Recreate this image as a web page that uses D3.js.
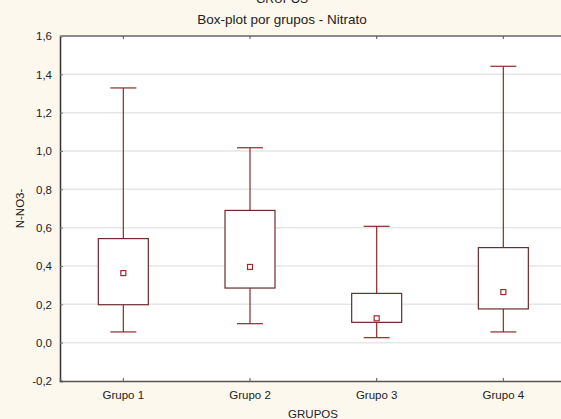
<!DOCTYPE html>
<html>
<head>
<meta charset="utf-8">
<script src="https://cdn.jsdelivr.net/npm/d3@7/dist/d3.min.js"></script>
<style>
  html, body { margin: 0; padding: 0; background: #fdf8ee; }
  svg { display: block; }
  text { font-family: "Liberation Sans", Arial, sans-serif; fill: #222; }
</style>
</head>
<body>
<svg id="chart" width="561" height="419"></svg>
<script>
// Nitrate (N-NO3-) summary per group
const groups      = ["Grupo 1", "Grupo 2", "Grupo 3", "Grupo 4"];
const whiskerLow  = [0.056, 0.099, 0.026, 0.056];
const boxLow      = [0.198, 0.285, 0.106, 0.176];
const median      = [0.363, 0.395, 0.127, 0.264];
const boxHigh     = [0.543, 0.690, 0.257, 0.496];
const whiskerHigh = [1.329, 1.017, 0.607, 1.442];
const yTicks      = [-0.2, 0.0, 0.2, 0.4, 0.6, 0.8, 1.0, 1.2, 1.4, 1.6];

const svg = d3.select("#chart");
const plotLeft = 60, plotTop = 36, plotBottom = 381;
const step = 126.67;
const plotRight = plotLeft + step * groups.length;

const x = d3.scaleBand().domain(groups).range([plotLeft, plotRight]).paddingInner(0).paddingOuter(0);
const y = d3.scaleLinear().domain([-0.2, 1.6]).range([plotBottom, plotTop]);
const fmt = v => d3.format(".1f")(v).replace(".", ",").replace("−", "-");

// plot background
svg.append("rect").attr("x", plotLeft).attr("y", plotTop)
  .attr("width", plotRight - plotLeft).attr("height", plotBottom - plotTop).attr("fill", "#ffffff");

// horizontal grid
svg.append("g").selectAll("line").data(yTicks.slice(1, -1)).join("line")
  .attr("x1", plotLeft).attr("x2", plotRight)
  .attr("y1", d => y(d)).attr("y2", d => y(d))
  .attr("stroke", "#e6e6e6").attr("stroke-width", 1.5);

// titles (the upper one sits partly above the page edge)
svg.append("text").attr("x", 282).attr("y", 3).attr("text-anchor", "middle")
  .attr("font-size", 12).text("GRUPOS");
svg.append("text").attr("x", 282).attr("y", 24).attr("text-anchor", "middle")
  .attr("font-size", 13.5).text("Box-plot por grupos - Nitrato");

// y axis
const yAxis = d3.axisLeft(y).tickValues(yTicks).tickFormat(fmt).tickSize(-3).tickPadding(8);
const gy = svg.append("g").attr("transform", `translate(${plotLeft},0)`).call(yAxis);
gy.select(".domain").attr("stroke", "#333").attr("stroke-width", 1.5);
gy.selectAll(".tick line").attr("stroke", "#777");
gy.selectAll(".tick text").attr("font-size", 11.5).attr("font-family", "Liberation Sans, Arial, sans-serif").attr("fill", "#222");

// x axis (bottom)
const xAxis = d3.axisBottom(x).tickSize(-3).tickPadding(10);
const gx = svg.append("g").attr("transform", `translate(0,${plotBottom})`).call(xAxis);
gx.select(".domain").attr("stroke", "#555").attr("stroke-width", 1.5);
gx.selectAll(".tick line").attr("stroke", "#555");
gx.selectAll(".tick text").attr("font-size", 11.5).attr("font-family", "Liberation Sans, Arial, sans-serif").attr("fill", "#222");

// top frame with small ticks
svg.append("line").attr("x1", plotLeft).attr("x2", plotRight).attr("y1", plotTop).attr("y2", plotTop)
  .attr("stroke", "#8a8a8a").attr("stroke-width", 2);
svg.append("g").selectAll("line").data(groups).join("line")
  .attr("x1", d => x(d) + x.bandwidth() / 2).attr("x2", d => x(d) + x.bandwidth() / 2)
  .attr("y1", plotTop).attr("y2", plotTop + 3).attr("stroke", "#555");

// axis titles
svg.append("text").attr("transform", `translate(24,${(plotTop + plotBottom) / 2}) rotate(-90)`)
  .attr("text-anchor", "middle").attr("font-size", 11.5).text("N-NO3-");
svg.append("text").attr("x", 313).attr("y", 418).attr("text-anchor", "middle")
  .attr("font-size", 11.5).text("GRUPOS");

// boxes
const boxW = 50, capW = 26;
const whiskerColor = "#8e2a2a", boxColor = "#6e2a2e";
const g = svg.append("g").selectAll("g").data(groups).join("g")
  .attr("transform", d => `translate(${x(d) + x.bandwidth() / 2},0)`);

g.append("line").attr("x1", 0).attr("x2", 0)
  .attr("y1", (d, i) => y(whiskerHigh[i])).attr("y2", (d, i) => y(boxHigh[i]))
  .attr("stroke", whiskerColor).attr("stroke-width", 1.2);
g.append("line").attr("x1", 0).attr("x2", 0)
  .attr("y1", (d, i) => y(boxLow[i])).attr("y2", (d, i) => y(whiskerLow[i]))
  .attr("stroke", whiskerColor).attr("stroke-width", 1.2);
g.append("line").attr("x1", -capW / 2).attr("x2", capW / 2)
  .attr("y1", (d, i) => y(whiskerHigh[i])).attr("y2", (d, i) => y(whiskerHigh[i]))
  .attr("stroke", whiskerColor).attr("stroke-width", 1.2);
g.append("line").attr("x1", -capW / 2).attr("x2", capW / 2)
  .attr("y1", (d, i) => y(whiskerLow[i])).attr("y2", (d, i) => y(whiskerLow[i]))
  .attr("stroke", whiskerColor).attr("stroke-width", 1.2);
g.append("rect").attr("x", -boxW / 2).attr("width", boxW)
  .attr("y", (d, i) => y(boxHigh[i]))
  .attr("height", (d, i) => y(boxLow[i]) - y(boxHigh[i]))
  .attr("fill", "#ffffff").attr("stroke", boxColor).attr("stroke-width", 1.2);
g.append("rect").attr("x", -2.5).attr("width", 5).attr("height", 5)
  .attr("y", (d, i) => y(median[i]) - 2.5)
  .attr("fill", "#ffffff").attr("stroke", "#a0282e").attr("stroke-width", 1.2);
</script>
</body>
</html>
